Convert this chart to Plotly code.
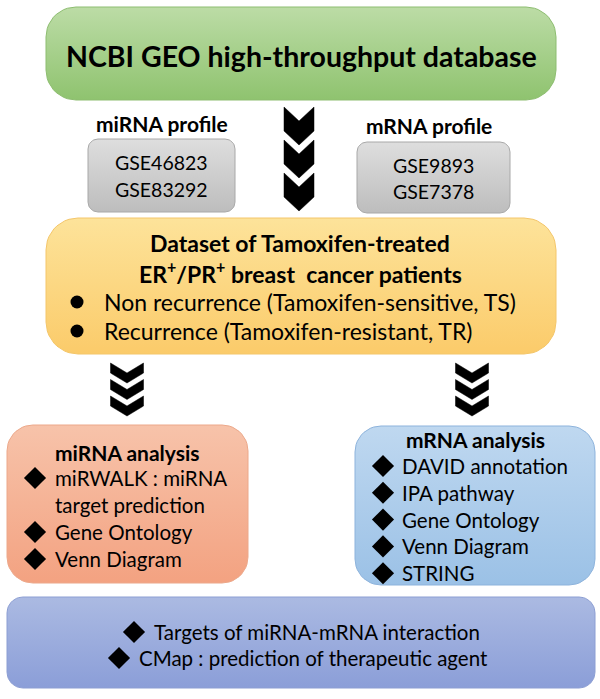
import plotly.graph_objects as go
import numpy as np

W, H = 600, 699
FONT = "Lato"

# ---- text content ----
top_title = "NCBI GEO high-throughput database"
profile_labels = ["miRNA profile", "mRNA profile"]
mirna_datasets = ["GSE46823", "GSE83292"]
mrna_datasets = ["GSE9893", "GSE7378"]
dataset_title = ["Dataset of Tamoxifen-treated", "ER<sup>+</sup>/PR<sup>+</sup> breast&nbsp; cancer patients"]
dataset_groups = ["Non recurrence (Tamoxifen-sensitive, TS)", "Recurrence (Tamoxifen-resistant, TR)"]
mirna_title = "miRNA analysis"
mirna_items = [["miRWALK : miRNA", "target prediction"], ["Gene Ontology"], ["Venn Diagram"]]
mrna_title = "mRNA analysis"
mrna_items = ["DAVID annotation", "IPA pathway", "Gene Ontology", "Venn Diagram", "STRING"]
final_items = ["Targets of miRNA-mRNA interaction", "CMap : prediction of therapeutic agent"]

fig = go.Figure()


def rrect(x0, y0, x1, y1, r, c_top, c_bot, line):
    xs, ys = [], []
    n = 12
    corners = [(x1 - r, y0 + r, -90, 0), (x1 - r, y1 - r, 0, 90),
               (x0 + r, y1 - r, 90, 180), (x0 + r, y0 + r, 180, 270)]
    for cx, cy, a0, a1 in corners:
        for a in np.linspace(np.radians(a0), np.radians(a1), n):
            xs.append(cx + r * np.cos(a))
            ys.append(cy + r * np.sin(a))
    xs.append(xs[0]); ys.append(ys[0])
    fig.add_trace(go.Scatter(
        x=xs, y=ys, mode="lines", fill="toself",
        fillgradient=dict(type="vertical", colorscale=[[0, c_top], [1, c_bot]],
                          start=y0, stop=y1),
        line=dict(color=line, width=1), hoverinfo="skip", showlegend=False))


def chevrons(cx, ytop, w, t, d, gap, n=3):
    for i in range(n):
        y0 = ytop + i * gap
        xs = [cx - w / 2, cx, cx + w / 2, cx + w / 2, cx, cx - w / 2, cx - w / 2]
        ys = [y0, y0 + d, y0, y0 + t, y0 + t + d, y0 + t, y0]
        fig.add_trace(go.Scatter(x=xs, y=ys, mode="lines", fill="toself",
                                 fillcolor="black", line=dict(color="black", width=0.5),
                                 hoverinfo="skip", showlegend=False))


def bullets(xs, ys, symbol, size):
    fig.add_trace(go.Scatter(x=xs, y=ys, mode="markers",
                             marker=dict(symbol=symbol, size=size, color="black", line=dict(width=0)),
                             hoverinfo="skip", showlegend=False))


def txt(x, y, s, size, bold=False, xanchor="center", family=FONT):
    if bold:
        s = "<b>" + s + "</b>"
    fig.add_annotation(x=x, y=y, text=s, showarrow=False, xanchor=xanchor, yanchor="middle",
                       font=dict(family=family, size=size, color="black"), xref="x", yref="y")


# boxes
rrect(46, 7, 556, 100, 30, "#bcdca6", "#8fc36f", "#8dbd70")
rrect(88, 139, 235, 212, 10, "#dedede", "#bdbdbd", "#a8a8a8")
rrect(357, 142, 510, 213, 10, "#dedede", "#bdbdbd", "#a8a8a8")
rrect(46, 218, 556, 354, 32, "#fde39a", "#fbcb6a", "#f4c66a")
rrect(7, 425, 248, 583, 26, "#f7c3aa", "#f3a281", "#eca88a")
rrect(355, 426, 595, 585, 26, "#bfd8f0", "#9bc1e6", "#8db3dc")
rrect(7, 597, 595, 688, 16, "#abbae2", "#8b9ed8", "#8c9ed3")

# chevrons
chevrons(299, 107, 30, 24, 14, 33)
chevrons(127, 363, 33, 10, 10, 16.5)
chevrons(472, 363, 33, 10, 10, 16.5)

# texts
txt(301, 56, top_title, 28.5, bold=True)
txt(162, 123, profile_labels[0], 21, bold=True)
txt(429, 125, profile_labels[1], 21, bold=True)
txt(161, 162, mirna_datasets[0], 19.5)
txt(161, 189, mirna_datasets[1], 19.5)
txt(433, 165, mrna_datasets[0], 19.5)
txt(433, 191, mrna_datasets[1], 19.5)

txt(300, 243, dataset_title[0], 23, bold=True)
txt(300, 272, dataset_title[1], 23, bold=True)
dot_y = []
for i, g in enumerate(dataset_groups):
    y = 302 + i * 29
    dot_y.append(y)
    txt(102, y, g, 23, xanchor="left")
bullets([77] * len(dot_y), dot_y, "circle", 13)

diam_x, diam_y = [], []
txt(127, 452, mirna_title, 21, bold=True)
y = 478
for item in mirna_items:
    diam_x.append(35); diam_y.append(y)
    for line in item:
        txt(53, y, line, 20.5, xanchor="left")
        y += 27

txt(475, 439, mrna_title, 21, bold=True)
for i, item in enumerate(mrna_items):
    y = 466 + i * 26.8
    diam_x.append(383); diam_y.append(y)
    txt(400, y, item, 20.5, xanchor="left")

final_x = [134, 119]
for i, item in enumerate(final_items):
    y = 632 + i * 26
    diam_x.append(final_x[i]); diam_y.append(y)
    txt(final_x[i] + 18, y, item, 20.5, xanchor="left")

bullets(diam_x, diam_y, "diamond", 17)

fig.update_layout(
    width=W, height=H, margin=dict(l=0, r=0, t=0, b=0),
    paper_bgcolor="white", plot_bgcolor="white",
    xaxis=dict(range=[0, W], visible=False, fixedrange=True),
    yaxis=dict(range=[H, 0], visible=False, fixedrange=True),
    showlegend=False,
)
fig.write_html("out.html", config={"displayModeBar": False},
               post_script="document.body.style.margin='0';document.body.style.overflow='hidden';")
